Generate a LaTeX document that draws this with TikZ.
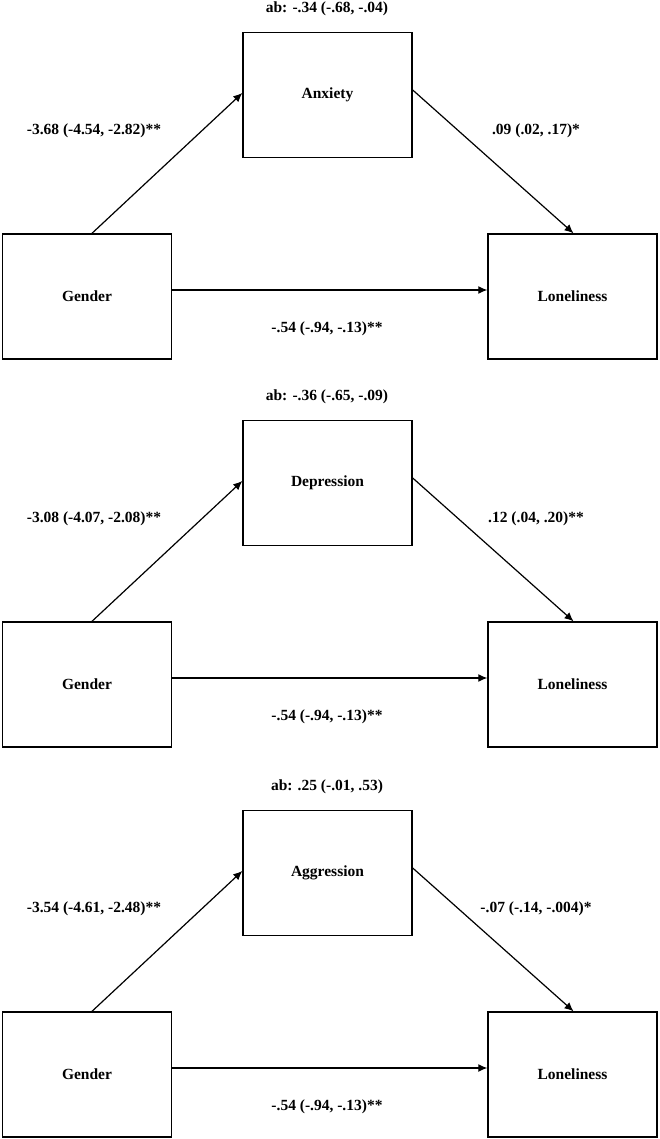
\documentclass[tikz,border=0pt]{standalone}
\usepackage{fontspec}
\setmainfont{Liberation Serif}
\usetikzlibrary{arrows.meta,calc}
\tikzset{
  var/.style={draw, line width=1.4pt, minimum width=169pt, minimum height=125pt, inner sep=0pt,
    font=\fontsize{15.5}{18}\selectfont\bfseries},
  lab/.style={font=\fontsize{15.5}{18}\selectfont\bfseries, inner sep=0pt},
  conn/.style={line width=1.2pt, -{Latex[length=9pt,width=8pt]}}
}
\newcommand\mypanel[6]{%
  \node[var] (m#1) at (327.5,#2+62) {#3};
  \node[var] (g#1) at (87,#2+263.5) {Gender};
  \node[var] (l#1) at (572.5,#2+263.5) {Loneliness};
  \node[lab] (ab#1) at (327,#2-24) {#4};
  \node[lab] (a#1) at (94,#2+98) {#5};
  \node[lab] (b#1) at (536,#2+98) {#6};
  \node[lab] (c#1) at (327,#2+296) {-.54 (-.94, -.13)**};
  \draw[conn] ([xshift=5pt]g#1.north) -- ([yshift=2pt]m#1.west);
  \draw[conn] ([yshift=5pt]m#1.east) -- ([xshift=1pt]l#1.north);
  \draw[conn] ([yshift=6.5pt]g#1.east) -- ([yshift=6.5pt]l#1.west);
}
\begin{document}
\begin{tikzpicture}[x=1pt,y=-1pt]
  \useasboundingbox (0,0) rectangle (660,1139);
  \mypanel{1}{33}{Anxiety}{ab: -.34 (-.68, -.04)}{-3.68 (-4.54, -2.82)**}{.09 (.02, .17)*}
  \mypanel{2}{421}{Depression}{ab: -.36 (-.65, -.09)}{-3.08 (-4.07, -2.08)**}{.12 (.04, .20)**}
  \mypanel{3}{811}{Aggression}{ab: .25 (-.01, .53)}{-3.54 (-4.61, -2.48)**}{-.07 (-.14, -.004)*}
\end{tikzpicture}
\end{document}
